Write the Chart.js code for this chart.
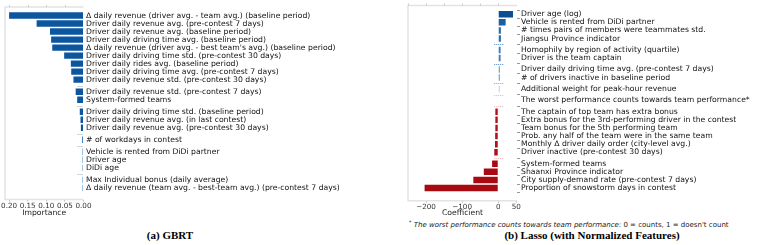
<!DOCTYPE html>
<html>
<head>
<meta charset="utf-8">
<script src="https://cdn.jsdelivr.net/npm/chart.js@4.4.1/dist/chart.umd.min.js"></script>
<style>
  body { margin: 0; background: #fff; width: 764px; height: 245px; position: relative; overflow: hidden; font-family: "DejaVu Sans", sans-serif; }
  .box { position: absolute; top: 0; }
  .caption { position: absolute; top: 229px; font-family: "Liberation Serif", serif; font-weight: bold; font-size: 11px; color: #000; white-space: nowrap; transform: translateX(-50%); }
  .note { position: absolute; left: 409px; top: 219px; font-size: 7px; color: #222; white-space: nowrap; }
  .note sup { font-size: 5px; }
</style>
</head>
<body>
<div class="box" style="left:0"><canvas id="gbrt_chart" width="372" height="218"></canvas></div>
<div class="box" style="left:380px"><canvas id="lasso_chart" width="384" height="218"></canvas></div>
<div class="note"><sup>*</sup> <i>The worst performance counts towards team performance</i>: 0 = counts, 1 = doesn't count</div>
<div class="caption" style="left:170px">(a) GBRT</div>
<div class="caption" style="left:592px">(b) Lasso (with Normalized Features)</div>

<script>
"use strict";

/*--------------------------------------
    data
--------------------------------------*/

const gbrtFeatures = [
  "\u0394 daily revenue (driver avg. - team avg.) (baseline period)",
  "Driver daily revenue avg. (pre-contest 7 days)",
  "Driver daily revenue avg. (baseline period)",
  "Driver daily driving time avg. (baseline period)",
  "\u0394 daily revenue (driver avg. - best team's avg.) (baseline period)",
  "Driver daily driving time std. (pre-contest 30 days)",
  "Driver daily rides avg. (baseline period)",
  "Driver daily driving time avg. (pre-contest 7 days)",
  "Driver daily revenue std. (pre-contest 30 days)",
  "Driver daily revenue std. (pre-contest 7 days)",
  "System-formed teams",
  "Driver daily driving time std. (baseline period)",
  "Driver daily revenue avg. (in last contest)",
  "Driver daily revenue avg. (pre-contest 30 days)",
  "# of workdays in contest",
  "Vehicle is rented from DiDi partner",
  "Driver age",
  "DiDi age",
  "Max Individual bonus (daily average)",
  "\u0394 daily revenue (team avg. - best-team avg.) (pre-contest 7 days)"
];
const gbrtImportance = [0.200, 0.126, 0.090, 0.087, 0.084, 0.052, 0.034, 0.033, 0.027, 0.021,
  0.017, 0.010, 0.008, 0.007, 0.004, 0.003, 0.003, 0.003, 0.003, 0.003];
const gbrtGroups = [9, 2, 3, 1, 3, 2];          // rows between the "..." breaks
const gbrtTicks = [0.20, 0.15, 0.10, 0.05, 0.00];

const lassoFeatures = [
  "Driver age (log)",
  "Vehicle is rented from DiDi partner",
  "# times pairs of members were teammates std.",
  "Jiangsu Province indicator",
  "Homophily by region of activity (quartile)",
  "Driver is the team captain",
  "Driver daily driving time avg. (pre-contest 7 days)",
  "# of drivers inactive in baseline period",
  "Additional weight for peak-hour revenue",
  "The worst performance counts towards team performance*",
  "The captain of top team has extra bonus",
  "Extra bonus for the 3rd-performing driver in the contest",
  "Team bonus for the 5th performing team",
  "Prob. any half of the team were in the same team",
  "Monthly \u0394 driver daily order (city-level avg.)",
  "Driver inactive (pre-contest 30 days)",
  "System-formed teams",
  "Shaanxi Province indicator",
  "City supply-demand rate (pre-contest 7 days)",
  "Proportion of snowstorm days in contest"
];
const lassoCoef = [41, 20.5, 7.4, 7.4, 6.5, 6.5, 4.6, 4.6, 3.7, -1.5,
  -8, -8, -8, -8.5, -9, -11, -17, -40, -69, -204];
const lassoGroups = [4, 2, 2, 1, 1, 6, 4];
const lassoTicks = [-200, -100, 0, 50];

/*--------------------------------------
    styles
--------------------------------------*/

const gbrtColors = gbrtImportance.map(function (v, i) {
  if (i < 14) return '#0c559f';
  if (i === 14) return '#4682bd';
  return '#6a9fd3';
});
const gbrtSepColors = ['#aaa', '#aaa', '#aaa', '#aaa', '#aaa'];

const lassoColors = ['#0b4d93', '#1a5fa6', '#2a6db1', '#2a6db1', '#3a7ab9', '#3a7ab9',
  '#6c9fcf', '#6c9fcf', '#a9c9e5', '#f0a0a0',
  '#b0101c', '#b0101c', '#b0101c', '#b0101c', '#b0101c', '#b0101c',
  '#a80a12', '#a80a12', '#a80a12', '#a80a12'];
const lassoSepColors = ['#4f88c2', '#4f88c2', '#7aa9d6', '#f3b0b0', '#f3b0b0', '#f3b0b0'];

const labelFont = { family: 'DejaVu Sans', size: 7.7 };
const tickFont = { family: 'DejaVu Sans', size: 7.2 };

// row positions with a small gap where rows were left out
function rowPositions(groups, gap) {
  const pos = [];
  const seps = [];
  let y = 0;
  groups.forEach(function (n, g) {
    if (g > 0) {
      seps.push(y - 1 + (1 + gap) / 2);
      y += gap;
    }
    for (let i = 0; i < n; i++) {
      pos.push(y);
      y += 1;
    }
  });
  return { pos: pos, seps: seps, last: y - 1 };
}

/*--------------------------------------
    frame, top ticks and "..." breaks
--------------------------------------*/

const framePlugin = {
  id: 'frame',
  beforeDatasetsDraw: function (chart, args, opts) {
    const a = chart.chartArea;
    const ctx = chart.ctx;
    const xs = chart.scales.x;
    const ys = chart.scales.y;
    ctx.save();
    ctx.strokeStyle = '#e3e3e3';
    ctx.lineWidth = 1.5;
    ctx.beginPath();
    ctx.moveTo(a.right, a.top);
    ctx.lineTo(a.left, a.top);
    ctx.lineTo(a.left, a.bottom);
    ctx.lineTo(a.right, a.bottom);
    ctx.stroke();

    ctx.strokeStyle = '#c8c8c8';
    ctx.lineWidth = 1;
    opts.topTicks.forEach(function (v) {
      const x = Math.round(xs.getPixelForValue(v)) + 0.5;
      ctx.beginPath();
      ctx.moveTo(x, a.top);
      ctx.lineTo(x, a.top - 2);
      ctx.stroke();
    });

    const x0 = xs.getPixelForValue(0);
    ctx.setLineDash([1, 1]);
    opts.seps.forEach(function (s, i) {
      const y = Math.round(ys.getPixelForValue(s)) + 0.5;
      ctx.strokeStyle = opts.sepColors[i];
      ctx.beginPath();
      ctx.moveTo(x0 + opts.sepSpan[0], y);
      ctx.lineTo(x0 + opts.sepSpan[1], y);
      ctx.stroke();
    });
    ctx.restore();
  }
};

function buildChart(id, cfg) {
  const rows = rowPositions(cfg.groups, cfg.gap);
  return new Chart(document.getElementById(id).getContext('2d'), {
    type: 'bar',
    data: {
      datasets: [{
        data: cfg.values.map(function (v, i) { return { x: v, y: rows.pos[i] }; }),
        backgroundColor: cfg.colors,
        borderWidth: 0,
        barPercentage: 0.8,
        categoryPercentage: 1
      }]
    },
    plugins: [framePlugin],
    options: {
      indexAxis: 'y',
      responsive: false,
      animation: false,
      layout: { padding: { left: cfg.left, top: 2, right: 0, bottom: 0 } },
      plugins: {
        legend: { display: false },
        tooltip: { enabled: false },
        frame: {
          topTicks: cfg.topTicks,
          seps: rows.seps,
          sepColors: cfg.sepColors,
          sepSpan: cfg.sepSpan
        }
      },
      scales: {
        x: {
          type: 'linear',
          reverse: cfg.reverse,
          min: cfg.min,
          max: cfg.max,
          afterBuildTicks: function (s) { s.ticks = cfg.ticks.map(function (v) { return { value: v }; }); },
          afterFit: function (s) { s.height = cfg.xHeight; },
          ticks: {
            font: tickFont,
            color: '#333',
            padding: 0,
            maxRotation: 0,
            callback: cfg.tickFormat
          },
          grid: { drawOnChartArea: false, drawTicks: true, tickLength: 2, color: '#bbb' },
          border: { display: false },
          title: { display: true, text: cfg.xTitle, font: labelFont, color: '#222', padding: 0 }
        },
        y: {
          type: 'linear',
          position: 'right',
          reverse: true,
          min: -0.45,
          max: rows.last + cfg.bottomPad,
          afterBuildTicks: function (s) { s.ticks = rows.pos.map(function (v) { return { value: v }; }); },
          afterFit: function (s) { s.width = cfg.yWidth; },
          ticks: {
            autoSkip: false,
            font: labelFont,
            color: '#111',
            padding: cfg.labelPad,
            callback: function (v, i) { return cfg.labels[i]; }
          },
          grid: { display: cfg.yTicks, drawOnChartArea: false, drawTicks: cfg.yTicks, tickLength: 3, color: '#999' },
          border: { display: false }
        }
      }
    }
  });
}

/*--------------------------------------
    charts
--------------------------------------*/

buildChart('gbrt_chart', {
  labels: gbrtFeatures, values: gbrtImportance, groups: gbrtGroups, gap: 0.5,
  colors: gbrtColors, sepColors: gbrtSepColors, sepSpan: [-6, -1],
  reverse: true, min: 0, max: 0.211, ticks: gbrtTicks, topTicks: [0.20, 0.15, 0.10, 0.05],
  tickFormat: function (v) { return Number(v).toFixed(2); },
  xTitle: 'Importance', left: 5, yWidth: 288.5, xHeight: 18.5, bottomPad: 0.85,
  labelPad: 2.5, yTicks: false
});

buildChart('lasso_chart', {
  labels: lassoFeatures, values: lassoCoef, groups: lassoGroups, gap: 0.4,
  colors: lassoColors, sepColors: lassoSepColors, sepSpan: [-4, 5],
  reverse: false, min: -250, max: 52, ticks: lassoTicks, topTicks: [-250, -200, -150, -100, -50, 0],
  tickFormat: function (v) { return v < 0 ? '\u2212' + Math.abs(v) : String(v); },
  xTitle: 'Coefficient', left: 28, yWidth: 247, xHeight: 17.3, bottomPad: 0.95,
  labelPad: 1, yTicks: true
});
</script>
</body>
</html>
